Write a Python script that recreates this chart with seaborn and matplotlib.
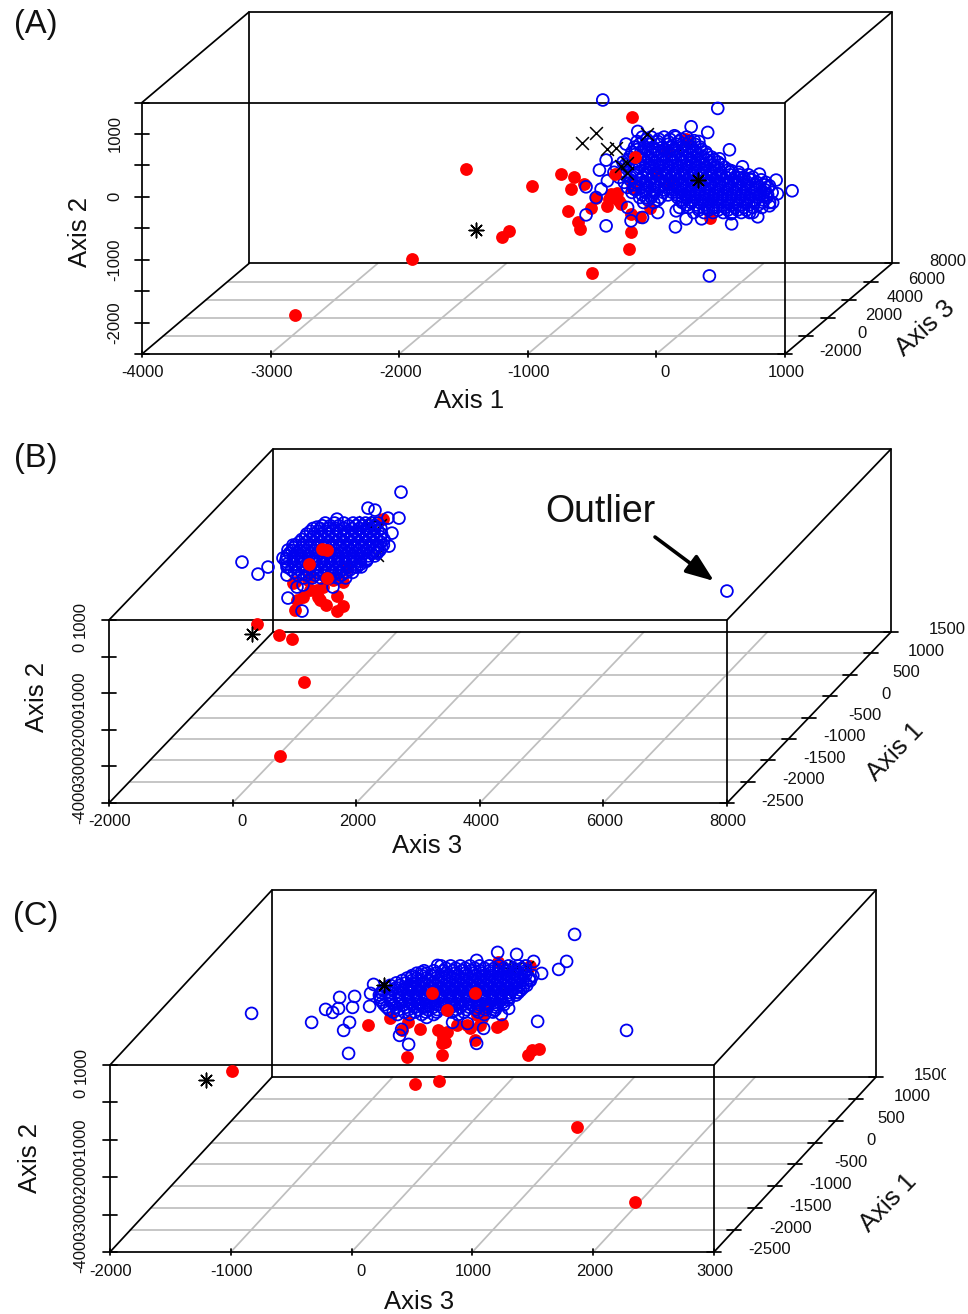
import matplotlib
matplotlib.use("Agg")
import matplotlib.pyplot as plt
import pandas as pd
import seaborn as sns
from matplotlib.transforms import Bbox

# values, as drawn on the front plane of each box
a_red = [(-2807, -1879), (-1897, -987), (-1477, 446), (-1143, -541), (-1198, -637), (-964, 175), (-739, 366),
         (-638, 318), (-560, 207), (-661, 127), (-684, -223), (-607, -398), (-591, -509), (-505, -175), (-467, -16),
         (-381, -143), (-303, 64), (-272, -111), (-187, 223), (-194, -271), (-124, -318), (-194, -557), (-210, -828),
         (-47, -175), (-498, -1210), (420, -334), (-187, 1274), (-365, -32), (233, 923), (-288, -64), (-350, 48),
         (-187, 143), (86, 732), (0, 366), (100, 200)]
a_red_top = [(-163, 637), (-319, 366)]
a_blue = [(-417, 1540), (477, 1406), (270, 1114), (399, 1024), (568, 748), (-145, 1040), (140, 971), (295, 892),
          (-236, 839), (-391, 584), (-443, 425), (490, 605), (669, 478), (801, 361), (931, 266), (1055, 96),
          (583, 414), (723, 287), (879, 175), (941, 48), (-547, 159), (-430, 122), (-469, -11), (-381, 255),
          (-171, 122), (-80, -11), (-547, -287), (-391, -462), (-224, -170), (-197, -382), (-108, -329), (10, -250),
          (148, -478), (231, -350), (351, -350), (154, -223), (437, -170), (585, -430), (580, -270), (749, -250),
          (788, -318), (904, -91), (879, -143), (412, -1258)]
a_blue_rows = {
    950: [-110, -40, 60, 150, 235],
    880: [-150, -60, 10, 90, 175, 260, 330],
    790: [-170, -95, -25, 50, 120, 200, 275, 340],
    710: [-190, -120, -45, 20, 95, 165, 240, 310, 385],
    630: [-210, -130, -60, 10, 80, 150, 225, 290, 360, 430],
    550: [-260, -170, -85, -15, 55, 125, 195, 270, 340, 415, 480],
    470: [-310, -220, -130, -50, 25, 95, 170, 240, 310, 380, 455, 530],
    390: [-330, -240, -150, -70, 0, 75, 145, 215, 285, 355, 430, 500, 570, 640],
    310: [-290, -200, -110, -35, 40, 110, 180, 250, 320, 395, 465, 540, 610, 680, 750],
    230: [-250, -160, -80, -10, 65, 135, 205, 275, 345, 420, 490, 560, 635, 705, 780, 850],
    150: [-225, -120, -50, 20, 95, 165, 235, 305, 375, 450, 520, 590, 660, 735, 805, 870],
    70: [-190, -85, -15, 55, 125, 190, 260, 335, 410, 480, 550, 620, 695, 765, 835, 900],
    -10: [-130, -40, 30, 165, 235, 300, 370, 440, 510, 585, 655, 725, 795, 860],
    -90: [-100, -20, 200, 270, 340, 410, 480, 550, 620, 690, 760, 830, 880],
    -170: [180, 250, 325, 395, 465, 535, 610, 680, 750, 820],
    -250: [290, 370, 440, 520, 590, 660, 725],
    915: [-75, 20, 105, 195],
    835: [-130, -60, 15, 90, 160, 235, 300],
    750: [-150, -80, -10, 60, 130, 205, 280, 350],
    670: [-170, -95, -25, 45, 120, 190, 260, 325, 395],
    590: [-215, -100, -35, 45, 115, 190, 260, 325, 390, 450],
    510: [-240, -130, -50, 20, 90, 160, 230, 305, 375, 445, 505],
    430: [-175, -90, -20, 60, 130, 205, 275, 345, 415, 490, 560],
    350: [-245, -155, -70, 5, 75, 145, 215, 285, 355, 430, 500, 575, 645, 715],
    270: [-205, -120, -45, 30, 100, 170, 240, 310, 385, 455, 525, 600, 670, 740, 815],
    190: [-170, -85, -15, 60, 130, 200, 270, 340, 415, 485, 555, 625, 700, 770, 840],
    110: [-160, -85, -15, 60, 130, 200, 270, 340, 415, 485, 555, 625, 695, 770, 845],
    30: [-110, -30, 90, 160, 225, 300, 375, 445, 515, 585, 660, 730, 800, 865],
    -50: [-65, 10, 200, 270, 340, 405, 475, 550, 620, 690, 760, 830],
    -130: [240, 305, 375, 445, 515, 585, 650, 720, 790],
    -210: [330, 405, 480, 555, 630, 700],
}
a_cross = [(-575, 860), (-467, 1019), (-381, 764), (-311, 780), (-272, 494), (-225, 541), (-225, 382), (-70, 1003)]
a_cross_under = [(202, 780), (257, 812)]
a_star = [(-1400, -525), (327, 271)]
a_star_under = []

b_red = [(395, 890), (751, 590), (961, 480), (1155, -690), (767, -2713), (1010, 1272), (1511, 1409), (1786, 1381),
         (1689, 1245), (1689, 1654), (1139, 1627), (1382, 1627), (1786, 2037), (1010, 2037), (1220, 2091),
         (1366, 1818), (1689, 2146), (2433, 3756), (1851, 2419), (982, 2009), (1252, 1818), (1414, 1545),
         (1462, 1900), (1624, 2091), (1042, 1545), (1252, 2173)]
b_red_top = [(1527, 2910), (1440, 2930), (1236, 2528), (1527, 2146)]
b_blue = [(7999, 1791), (2725, 4494), (2191, 4057), (2304, 4002), (2692, 3784), (2514, 3784), (2579, 3374),
          (2531, 3019), (152, 2583), (411, 2255), (573, 2446), (896, 1600), (1123, 1245), (1139, 1955), (1042, 1900),
          (1527, 2146), (1624, 1900), (880, 2446), (815, 2692), (896, 2910), (977, 3046), (880, 2228), (1366, 3538),
          (1689, 3756), (2013, 2446), (2175, 2637), (2336, 2856)]
b_blue_rows = {
    3650: [1500, 1650, 1800, 1950, 2050, 2150, 2250, 2350],
    3500: [1300, 1420, 1550, 1680, 1800, 1930, 2060, 2180, 2300, 2400],
    3350: [1200, 1320, 1440, 1560, 1680, 1810, 1930, 2050, 2170, 2290, 2410],
    3200: [1120, 1240, 1360, 1480, 1600, 1720, 1850, 1970, 2090, 2210, 2330, 2450],
    3050: [1020, 1140, 1260, 1380, 1500, 1620, 1740, 1860, 1980, 2100, 2220, 2340, 2440],
    2900: [960, 1080, 1200, 1320, 1440, 1560, 1680, 1800, 1920, 2040, 2160, 2280, 2380],
    2750: [880, 1000, 1120, 1240, 1360, 1480, 1600, 1720, 1840, 1960, 2080, 2200, 2300],
    2600: [860, 980, 1100, 1220, 1340, 1460, 1580, 1700, 1820, 1940, 2060, 2160],
    2450: [900, 1020, 1140, 1260, 1380, 1500, 1620, 1740, 1860, 1980, 2080],
    2300: [1000, 1120, 1240, 1360, 1480, 1600, 1720, 1840, 1940],
    2150: [1150, 1290, 1430, 1570, 1700, 1830],
    3575: [1450, 1580, 1720, 1880, 2000, 2100, 2200, 2300],
    3425: [1260, 1380, 1500, 1620, 1740, 1870, 2000, 2120, 2240, 2350],
    3275: [1180, 1300, 1420, 1540, 1660, 1790, 1910, 2030, 2150, 2270, 2390],
    3125: [1080, 1200, 1320, 1440, 1560, 1680, 1790, 1910, 2030, 2150, 2270, 2400],
    2975: [990, 1110, 1230, 1350, 1470, 1590, 1710, 1830, 1950, 2070, 2190, 2310, 2410],
    2825: [920, 1040, 1160, 1280, 1400, 1520, 1640, 1760, 1880, 2000, 2120, 2240, 2340],
    2675: [870, 990, 1110, 1230, 1350, 1470, 1590, 1710, 1830, 1950, 2070, 2180],
    2525: [880, 1000, 1120, 1240, 1360, 1480, 1600, 1720, 1840, 1960, 2070],
    2375: [950, 1070, 1190, 1310, 1430, 1550, 1670, 1790, 1900],
    2225: [1060, 1200, 1340, 1480, 1620, 1760],
}
b_cross = []
b_cross_under = [(2336, 2774), (2141, 3675), (2385, 3593), (2255, 3511)]
b_star = [(314, 619)]
b_star_under = [(2223, 3593)]

c_red = [(-993, 829), (521, 481), (720, 561), (1862, -668), (2343, -2674), (455, 1203), (745, 1257), (132, 2059),
         (315, 2246), (414, 1925), (563, 1952), (712, 1925), (786, 1872), (770, 1604), (745, 1578), (1018, 1658),
         (1457, 1257), (1490, 1390), (1548, 1417), (1242, 2086), (1200, 2005), (952, 2059), (869, 2059), (1076, 2246),
         (1084, 2513), (464, 2139), (1473, 3637), (1209, 3744), (1035, 2326), (977, 1979), (1060, 2059), (753, 1738)]
c_red_top = [(662, 2915), (1018, 2915), (786, 2460)]
c_blue = [(1846, 4492), (1209, 4011), (1366, 3958), (1507, 3770), (1780, 3770), (1714, 3556), (1573, 3449),
          (1540, 2166), (2276, 1925), (-828, 2380), (-25, 1310), (-331, 2139), (-66, 1925), (-17, 2139), (-215, 2487),
          (-157, 2407), (-108, 2513), (-99, 2808), (8, 2540), (25, 2834), (149, 2567), (157, 2915), (182, 3155),
          (414, 1952), (397, 1792), (472, 1551), (1035, 1578), (960, 2112), (1093, 1979), (836, 2139), (621, 2273),
          (1300, 2513), (1184, 2460), (1366, 2941), (1473, 3262), (712, 3663), (1035, 3797), (497, 3342), (579, 3476)]
c_blue_rows = {
    3650: [740, 820, 900, 980, 1060, 1140, 1220, 1300, 1380, 1440],
    3520: [600, 680, 760, 840, 915, 990, 1065, 1140, 1215, 1290, 1365, 1440],
    3390: [500, 580, 660, 740, 810, 880, 950, 1020, 1090, 1160, 1230, 1300, 1370, 1440, 1500],
    3260: [420, 500, 580, 650, 720, 790, 860, 930, 1000, 1070, 1140, 1210, 1280, 1350, 1420, 1480],
    3130: [320, 400, 480, 550, 620, 690, 760, 830, 900, 970, 1040, 1110, 1180, 1250, 1320, 1390, 1450],
    3000: [260, 340, 420, 490, 560, 630, 700, 770, 840, 910, 980, 1050, 1120, 1190, 1260, 1330, 1400],
    2870: [230, 310, 390, 460, 530, 600, 670, 740, 810, 880, 950, 1020, 1090, 1160, 1230, 1300, 1360],
    2740: [240, 320, 400, 470, 540, 610, 680, 750, 820, 890, 960, 1030, 1100, 1170, 1240, 1300],
    2610: [270, 350, 430, 500, 570, 640, 710, 780, 850, 920, 990, 1060, 1130, 1200, 1260],
    2480: [310, 390, 470, 550, 630, 710, 790, 870, 950, 1030, 1110, 1190],
    2350: [380, 480, 580, 680, 880, 1100, 1240],
    3585: [780, 860, 940, 1020, 1100, 1180, 1260, 1340, 1410],
    3455: [540, 620, 700, 780, 860, 940, 1010, 1080, 1150, 1220, 1290, 1360, 1430],
    3325: [460, 540, 620, 700, 770, 840, 910, 980, 1050, 1120, 1190, 1260, 1330, 1400, 1470],
    3195: [370, 450, 530, 600, 670, 740, 810, 880, 950, 1020, 1090, 1160, 1230, 1300, 1370, 1440],
    3065: [290, 370, 450, 520, 590, 660, 730, 800, 870, 940, 1010, 1080, 1150, 1220, 1290, 1360, 1420],
    2935: [245, 325, 405, 475, 545, 615, 685, 755, 825, 895, 965, 1035, 1105, 1175, 1245, 1315, 1380],
    2805: [235, 315, 395, 465, 535, 605, 675, 745, 815, 885, 955, 1025, 1095, 1165, 1235, 1300],
    2675: [255, 335, 415, 485, 555, 625, 695, 765, 835, 905, 975, 1045, 1115, 1185, 1250],
    2545: [290, 370, 450, 525, 600, 675, 750, 825, 900, 975, 1050, 1125, 1195],
    2415: [345, 435, 525, 615, 705, 830, 930, 1050, 1170],
}
c_cross = []
c_cross_under = [(1449, 3610), (1283, 2915), (1225, 3583), (1366, 3610)]
c_star = [(265, 3129), (-1209, 588)]
c_star_under = [(1308, 3583)]

a_x_ticks = [-4000, -3000, -2000, -1000, 0, 1000]
a_y_ticks = [-2500, -2000, -1500, -1000, -500, 0, 500, 1000, 1500]
a_y_labels = [-2000, -1000, 0, 1000]
a_depth_ticks = [-2000, 0, 2000, 4000, 6000, 8000]
b_x_ticks = [-2000, 0, 2000, 4000, 6000, 8000]
c_x_ticks = [-2000, -1000, 0, 1000, 2000, 3000]
bc_y_ticks = [-4000, -3000, -2000, -1000, 0, 1000]
bc_depth_ticks = [-2500, -2000, -1500, -1000, -500, 0, 500, 1000, 1500]

W, H = 968, 1314
PX = 72 / 100  # one pixel in points at dpi 100


def rows_to_frame(pairs, rows=None):
    pts = list(pairs)
    for y, xs in (rows or {}).items():
        pts += [(x, y) for x in xs]
    return pd.DataFrame(pts, columns=["x", "y"])


def fig_text(fig, x, y, s, size, **kw):
    kw.setdefault("ha", "center")
    kw.setdefault("va", "center")
    return fig.text(x / W, 1 - y / H, s, fontsize=size, color="#111111", **kw)


def draw_panel(fig, front, shift, x_ticks, y_ticks, y_labels, depth_ticks, y_label_gap):
    # front = pixel box of the front plane, shift = pixels right and up to the back plane
    left, right, top, bottom = front
    dx, dy = shift
    ax = fig.add_axes([left / W, 1 - bottom / H, (right + dx - left) / W, (bottom - top + dy) / H])
    x0, x1 = x_ticks[0], x_ticks[-1]
    y0, y1 = y_ticks[0], y_ticks[-1]
    sx = (right - left) / (x1 - x0)
    sy = (bottom - top) / (y1 - y0)
    ddx, ddy = dx / sx, dy / sy
    ax.set_xlim(x0, x1 + ddx)
    ax.set_ylim(y0, y1 + ddy)
    ax.axis("off")
    d0, d1 = depth_ticks[0], depth_ticks[-1]

    def frac(d):
        return (d - d0) / (d1 - d0)

    # floor grid
    for x in x_ticks[1:-1]:
        ax.plot([x, x + ddx], [y0, y0 + ddy], color="#bfbfbf", lw=1.25, zorder=1)
    for d in depth_ticks[1:-1]:
        f = frac(d)
        ax.plot([x0 + f * ddx, x1 + f * ddx], [y0 + f * ddy] * 2, color="#bfbfbf", lw=1.25, zorder=1)

    # box
    line = dict(color="black", lw=1.25, zorder=2, clip_on=False)
    for ox, oy in [(0, 0), (ddx, ddy)]:
        ax.plot([x0 + ox, x1 + ox, x1 + ox, x0 + ox, x0 + ox], [y0 + oy, y0 + oy, y1 + oy, y1 + oy, y0 + oy], **line)
    for px_, py_ in [(x0, y0), (x1, y0), (x0, y1), (x1, y1)]:
        ax.plot([px_, px_ + ddx], [py_, py_ + ddy], **line)

    # ticks, in pixels away from the box
    tick_x = 7 / sx
    for y in y_ticks:
        ax.plot([x0 - tick_x, x0 + tick_x], [y, y], **line)
    for x in x_ticks:
        ax.plot([x, x], [y0 - 3 / sy, y0 + 3 / sy], **line)
    for d in depth_ticks:
        f = frac(d)
        cx, cy = x1 + f * ddx, y0 + f * ddy
        ax.plot([cx - tick_x, cx + tick_x], [cy, cy], **line)

    tick_font = dict(fontsize=12, color="#111111", ha="center", va="center",
                     textcoords="offset points", annotation_clip=False)
    for x in x_ticks:
        nudge = 8 if x == 0 else 0
        ax.annotate(str(x), (x, y0), xytext=((nudge + 1) * PX, -19 * PX), **tick_font)
    for y in y_labels:
        nudge = 9 if (y == 0 and y_label_gap > 28) else 0
        ax.annotate(str(y), (x0, y), xytext=(-y_label_gap * PX, nudge * PX), rotation=90, **tick_font)
    labels = []
    for d in depth_ticks:
        f = frac(d)
        labels.append(ax.annotate(str(d), (x1 + f * ddx, y0 + f * ddy), xytext=(56 * PX, 2 * PX), **tick_font))
    return ax, labels


def draw_points(ax, red, red_top, blue, cross, star, cross_under, star_under):
    red_style = dict(color="#ff0000", s=85, linewidth=0, zorder=3, clip_on=False, legend=False)
    cross_style = dict(marker="x", color="black", s=85, linewidth=1.1, clip_on=False, legend=False)
    star_style = dict(marker=(8, 2, 0), color="black", s=110, linewidth=1.1, clip_on=False, legend=False)
    sns.scatterplot(data=red, x="x", y="y", ax=ax, **red_style)
    sns.scatterplot(data=cross_under, x="x", y="y", ax=ax, zorder=3.5, **cross_style)
    sns.scatterplot(data=star_under, x="x", y="y", ax=ax, zorder=3.5, **star_style)
    sns.scatterplot(data=blue, x="x", y="y", ax=ax, fc="none", edgecolor="#0000f0", s=72, linewidth=1.3,
                    zorder=4, clip_on=False, legend=False)
    sns.scatterplot(data=red_top, x="x", y="y", ax=ax, **{**red_style, "zorder": 5})
    sns.scatterplot(data=cross, x="x", y="y", ax=ax, zorder=6, **cross_style)
    sns.scatterplot(data=star, x="x", y="y", ax=ax, zorder=6, **star_style)
    ax.set_xlabel("")
    ax.set_ylabel("")


def main():
    sns.set_style("white")
    plt.rcParams["font.family"] = ["Liberation Sans", "DejaVu Sans"]
    fig = plt.figure(figsize=(W / 100, H / 100), dpi=100)

    ax_a, _ = draw_panel(fig, (142, 785, 102.5, 354), (107, 90.5), a_x_ticks, a_y_ticks, a_y_labels,
                         a_depth_ticks, 27)
    draw_points(ax_a, rows_to_frame(a_red), rows_to_frame(a_red_top), rows_to_frame(a_blue, a_blue_rows),
                rows_to_frame(a_cross), rows_to_frame(a_star), rows_to_frame(a_cross_under),
                rows_to_frame(a_star_under))

    ax_b, _ = draw_panel(fig, (109, 727, 620, 803), (164, 171), b_x_ticks, bc_y_ticks, bc_y_ticks,
                         bc_depth_ticks, 29)
    draw_points(ax_b, rows_to_frame(b_red), rows_to_frame(b_red_top), rows_to_frame(b_blue, b_blue_rows),
                rows_to_frame(b_cross), rows_to_frame(b_star), rows_to_frame(b_cross_under),
                rows_to_frame(b_star_under))

    ax_c, c_labels = draw_panel(fig, (110, 714, 1065, 1252), (162, 175), c_x_ticks, bc_y_ticks, bc_y_ticks,
                                bc_depth_ticks, 29)
    draw_points(ax_c, rows_to_frame(c_red), rows_to_frame(c_red_top), rows_to_frame(c_blue, c_blue_rows),
                rows_to_frame(c_cross), rows_to_frame(c_star), rows_to_frame(c_cross_under),
                rows_to_frame(c_star_under))
    # the top label of panel C is cut off in the original
    c_labels[-1].set_clip_on(True)
    c_labels[-1].set_clip_box(Bbox([[0, 0], [946, H]]))

    for x, y, s in [(36, 25, "(A)"), (36, 458, "(B)"), (36, 917, "(C)")]:
        fig_text(fig, x, y, s, 23.5)
    for x, y, s, rot in [(469, 401, "Axis 1", 0), (80, 232, "Axis 2", 90), (925, 328, "Axis 3", 42),
                         (427, 846, "Axis 3", 0), (37, 697, "Axis 2", 90), (895, 752, "Axis 1", 46),
                         (419, 1302, "Axis 3", 0), (30, 1158, "Axis 2", 90), (888, 1203, "Axis 1", 46)]:
        fig_text(fig, x, y, s, 18.5, rotation=rot, rotation_mode="anchor")
    fig_text(fig, 600, 512, "Outlier", 27)
    ax_b.annotate("", xy=(714 / W, 1 - 581 / H), xytext=(655 / W, 1 - 537 / H),
                  xycoords="figure fraction", textcoords="figure fraction",
                  arrowprops=dict(arrowstyle="-|>,head_length=1.7,head_width=0.65", color="black", lw=2.6,
                                  shrinkA=0, shrinkB=0))

    fig.savefig("out.png", dpi=100, facecolor="white")


if __name__ == "__main__":
    main()
